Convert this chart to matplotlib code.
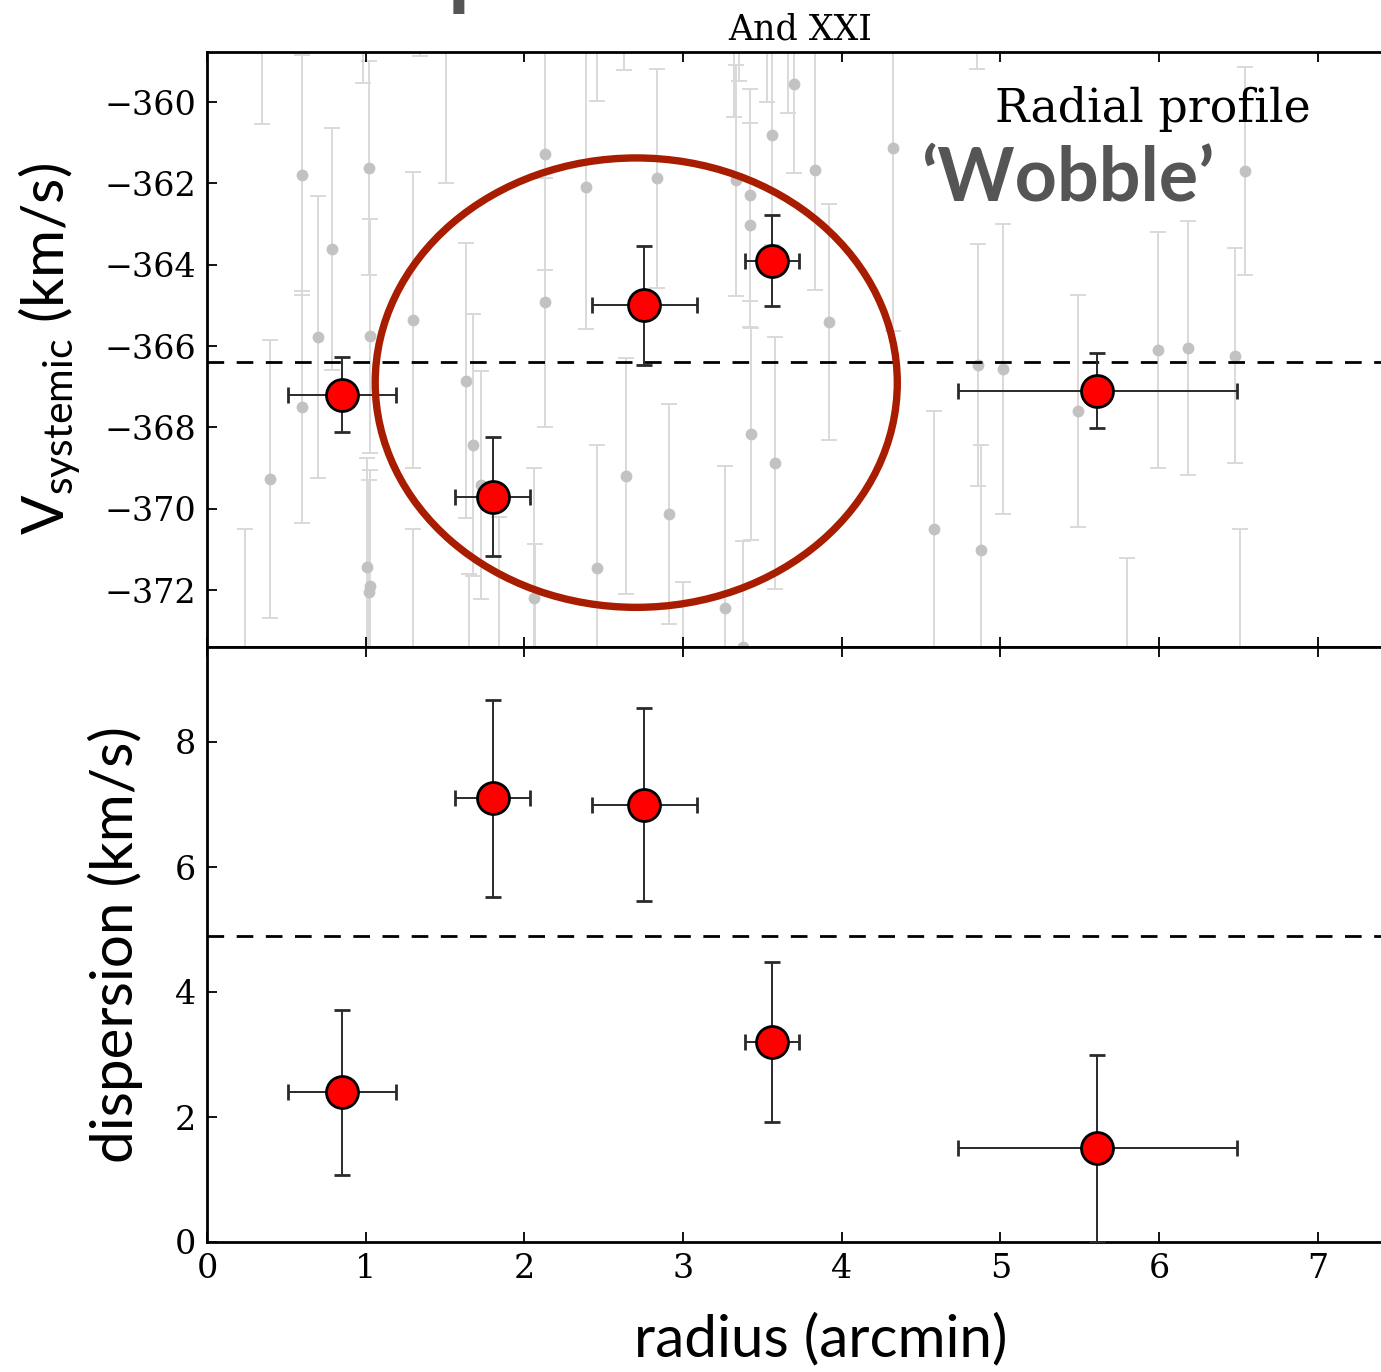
import matplotlib
matplotlib.use("Agg")
import matplotlib.pyplot as plt
from matplotlib.patches import Ellipse

# Binned radial profile of And XXI
bin_radius = [0.85, 1.80, 2.755, 3.56, 5.61]
bin_halfwidth = [0.34, 0.235, 0.33, 0.17, 0.88]
v_sys = [-367.2, -369.7, -365.0, -363.9, -367.1]
v_sys_err = [0.92, 1.46, 1.47, 1.12, 0.92]
dispersion = [2.4, 7.1, 7.0, 3.2, 1.5]
dispersion_err = [1.32, 1.58, 1.54, 1.28, 1.5]

# Global values
v_sys_global = -366.4
dispersion_global = 4.9

# Individual member stars (radius, velocity, velocity error)
star_r = [0.347, 0.60, 0.60, 0.70, 0.785, 0.40, 0.24, 0.98, 1.02, 1.03,
          1.007, 1.03, 1.02, 1.30, 1.30, 1.34, 1.507, 1.633, 1.675, 1.725,
          1.65, 1.84, 2.06, 2.07, 2.13, 2.13, 2.39, 2.457, 2.457, 2.63,
          2.64, 2.835, 2.91, 3.00, 3.265, 3.335, 3.35, 3.32, 3.42, 3.42,
          3.43, 3.38, 3.56, 3.70, 3.66, 3.83, 3.92, 4.32, 3.58, 4.58,
          4.86, 4.88, 5.015, 4.85, 5.49, 5.80, 5.99, 6.18, 6.475, 6.51,
          6.54, 3.53]
star_v = [-357.8, -361.8, -367.5, -365.78, -363.62, -369.27, -374.6, -357.0, -361.62, -365.76,
          -371.43, -371.9, -372.05, -365.36, -374.0, -356.0, -358.5, -366.85, -368.43, -369.42,
          -375.0, -374.0, -372.2, -374.5, -361.28, -364.92, -362.1, -357.0, -371.46, -356.5,
          -369.2, -361.88, -370.13, -374.7, -372.45, -361.92, -357.0, -357.5, -362.29, -363.02,
          -368.16, -373.4, -360.81, -359.55, -357.5, -361.68, -365.4, -361.12, -368.88, -370.5,
          -366.47, -371.02, -366.57, -356.3, -367.6, -374.5, -366.1, -366.05, -366.24, -373.8,
          -361.7, -357.2]
star_v_err = [2.75, 2.95, 2.85, 3.47, 2.97, 3.42, 4.1, 2.53, 2.63, 2.88,
              2.68, 2.84, 2.76, 3.63, 3.5, 2.87, 3.48, 3.38, 3.22, 2.8,
              3.4, 3.8, 3.2, 3.64, 2.86, 3.06, 3.47, 2.98, 3.03, 2.72,
              2.9, 2.7, 2.7, 2.9, 3.5, 2.84, 2.48, 2.88, 2.6, 2.5,
              2.6, 2.6, 2.7, 2.2, 2.76, 2.95, 2.9, 4.5, 3.1, 2.9,
              2.98, 2.58, 3.56, 2.9, 2.85, 3.3, 2.9, 3.12, 2.64, 3.3,
              2.55, 2.8]

x_ticks = [0, 1, 2, 3, 4, 5, 6, 7]
v_ticks = [-372, -370, -368, -366, -364, -362, -360]
d_ticks = [0, 2, 4, 6, 8]

plt.rcParams['font.family'] = ['DejaVu Serif']
plt.rcParams['mathtext.fontset'] = 'custom'
plt.rcParams['mathtext.rm'] = 'Lato'
plt.rcParams['mathtext.it'] = 'Lato:italic'
plt.rcParams['axes.linewidth'] = 2.0

W, H = 1381, 1372
fig = plt.figure(figsize=(W / 100, H / 100), dpi=100)


def box(x0, y0, x1, y1):
    return [x0 / W, 1 - y1 / H, (x1 - x0) / W, (y1 - y0) / H]


ax_v = fig.add_axes(box(207, 52, 1394, 647))
ax_d = fig.add_axes(box(207, 647, 1394, 1242), sharex=ax_v)

label_font = dict(family=['Lato', 'DejaVu Sans'], fontsize=42)
red_style = dict(fmt='o', ms=23, mfc='red', mec='black', mew=2.0,
                 ecolor='#2a2a2a', elinewidth=1.4, capsize=6, capthick=1.4,
                 zorder=4)

# --- systemic velocity panel ---
ax_v.errorbar(star_r, star_v, yerr=star_v_err, fmt='o', ms=8.5,
              color='#c2c2c2', mec='none', ecolor='#d9d9d9',
              elinewidth=1.4, capsize=5.5, capthick=1.4, zorder=1)
ax_v.axhline(v_sys_global, color='black', lw=2.0, ls=(0, (6, 4.5)), zorder=2)
ax_v.errorbar(bin_radius, v_sys, xerr=bin_halfwidth, yerr=v_sys_err, **red_style)
ax_v.add_patch(Ellipse((2.705, -366.9), width=3.29, height=11.05, fill=False,
                       ec='#a81c00', lw=5.3, zorder=5))
ax_v.set_ylim(-373.4, -358.77)
ax_v.set_yticks(v_ticks)
ax_v.set_ylabel(r'$\mathrm{V}_{\mathrm{systemic}}$ (km/s)', **label_font)
ax_v.yaxis.set_label_coords(-0.105, 0.5)
ax_v.set_title('And XXI', fontsize=25, pad=9)
ax_v.text(0.930, 0.882, 'Radial profile', transform=ax_v.transAxes,
          ha='right', va='baseline', fontsize=33)
ax_v.text(0.849, 0.751, '\u2018Wobble\u2019', transform=ax_v.transAxes,
          ha='right', va='baseline', fontsize=53, fontweight='bold',
          family=['Lato', 'DejaVu Sans'], color='#555555', zorder=6)

# --- dispersion panel ---
ax_d.axhline(dispersion_global, color='black', lw=2.0, ls=(0, (6, 4.5)), zorder=2)
ax_d.errorbar(bin_radius, dispersion, xerr=bin_halfwidth, yerr=dispersion_err,
              **red_style)
ax_d.set_ylim(0, 9.52)
ax_d.set_yticks(d_ticks)
ax_d.set_xlim(0, 7.48)
ax_d.set_xticks(x_ticks)
ax_d.set_ylabel('dispersion (km/s)', **label_font)
ax_d.yaxis.set_label_coords(-0.054, 0.5)
ax_d.set_xlabel('radius (arcmin)', **label_font)
ax_d.xaxis.set_label_coords(0.517, -0.118)

for ax in (ax_v, ax_d):
    ax.tick_params(direction='in', length=7, width=1.3, labelsize=24,
                   top=True, right=True, pad=8)
ax_v.tick_params(labelbottom=False)

# slide heading running off the top edge
fig.text(448 / W, 1 + 1 / H, 'p', ha='left', va='baseline', fontsize=64,
         fontweight='bold', family=['Lato', 'DejaVu Sans'], color='#555555')

fig.savefig('out.png', dpi=100)
